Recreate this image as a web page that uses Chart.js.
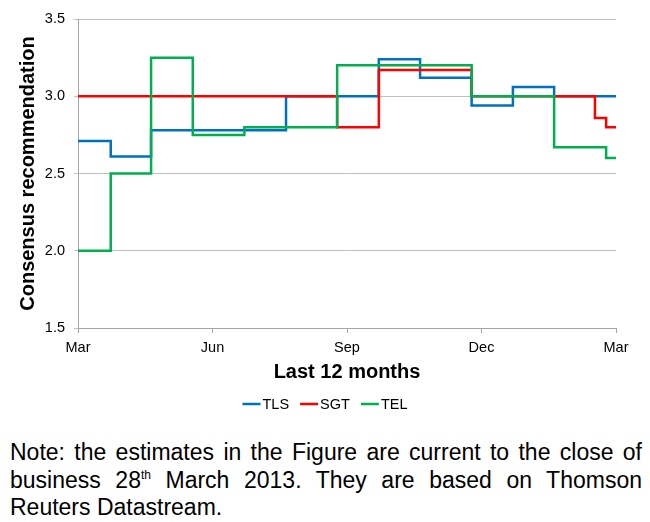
<!DOCTYPE html>
<html>
<head>
<meta charset="utf-8">
<script src="https://cdn.jsdelivr.net/npm/chart.js@4.4.0/dist/chart.umd.min.js"></script>
<style>
  html, body { margin: 0; padding: 0; background: #fff; }
  body { width: 650px; height: 522px; position: relative; overflow: hidden; font-family: "Liberation Sans", Arial, sans-serif; }
  #wrap { position: absolute; left: 0; top: 0; width: 650px; height: 425px; }
  #note {
    position: absolute; left: 10px; top: 439px; width: 632px;
    font-size: 23px; line-height: 27.5px; text-align: justify; color: #000;
  }
  #note sup { font-size: 12px; line-height: 0; vertical-align: 9px; }
</style>
</head>
<body>
<div id="wrap"><canvas id="recChart"></canvas></div>
<div id="note">Note: the estimates in the Figure are current to the close of business 28<sup>th</sup> March 2013. They are based on Thomson Reuters Datastream.</div>
<script>
// months since Mar 2012 where each consensus level starts
const tickLabels = ["Mar", "Jun", "Sep", "Dec", "Mar"];

const tlsMonths = [0, 0.73, 1.63, 4.64, 6.71, 7.63, 8.78, 9.70, 10.62, 12];
const tlsValues = [2.71, 2.61, 2.78, 3.00, 3.24, 3.12, 2.94, 3.06, 3.00, 3.00];

const sgtMonths = [0, 5.78, 6.71, 8.78, 11.53, 11.78, 12];
const sgtValues = [3.00, 2.80, 3.17, 3.00, 2.86, 2.80, 2.80];

const telMonths = [0, 0.73, 1.63, 2.56, 3.71, 5.78, 8.78, 10.62, 11.78, 12];
const telValues = [2.00, 2.50, 3.25, 2.75, 2.80, 3.20, 3.00, 2.67, 2.60, 2.60];

const toPoints = (xs, ys) => xs.map((x, i) => ({ x: x, y: ys[i] }));

const font = '"Liberation Sans", Arial, sans-serif';
const gridColor = "#c0c0c0";
const axisColor = "#a6a6a6";

function series(label, xs, ys, color, order) {
  return {
    label: label,
    data: toPoints(xs, ys),
    borderColor: color,
    backgroundColor: color,
    borderWidth: 2.5,
    pointRadius: 0,
    stepped: true,
    fill: false,
    order: order,
  };
}

// compact Excel-style legend: short line right next to the name, centred on the page
const lineLegend = {
  id: "lineLegend",
  afterDraw(chart) {
    const c = chart.ctx;
    const sets = chart.data.datasets;
    const sample = 18, gap = 2, spacing = 11, y = 404;
    c.save();
    c.font = "14.5px " + font;
    c.textBaseline = "middle";
    const widths = sets.map((d) => c.measureText(d.label).width);
    let total = widths.reduce((a, w) => a + w + sample + gap, 0) + spacing * (sets.length - 1);
    let x = (chart.width - total) / 2;
    sets.forEach((d, i) => {
      c.strokeStyle = d.borderColor;
      c.lineWidth = 2.5;
      c.beginPath();
      c.moveTo(x, y);
      c.lineTo(x + sample, y);
      c.stroke();
      c.fillStyle = "#000";
      c.fillText(d.label, x + sample + gap, y + 1);
      x += sample + gap + widths[i] + spacing;
    });
    c.restore();
  },
};

const ctx = document.getElementById("recChart").getContext("2d");
new Chart(ctx, {
  type: "line",
  data: {
    datasets: [
      series("TLS", tlsMonths, tlsValues, "#0070c0", 3),
      series("SGT", sgtMonths, sgtValues, "#ff0000", 2),
      series("TEL", telMonths, telValues, "#00b050", 1),
    ],
  },
  plugins: [lineLegend],
  options: {
    responsive: true,
    maintainAspectRatio: false,
    animation: false,
    layout: { padding: { top: 19, right: 34, left: 0, bottom: 35 } },
    plugins: {
      tooltip: { enabled: false },
      legend: { display: false },
    },
    scales: {
      x: {
        type: "linear",
        min: 0,
        max: 12,
        ticks: {
          stepSize: 3,
          color: "#000",
          font: { family: font, size: 14.5 },
          padding: 6,
          maxRotation: 0,
          callback: (v) => tickLabels[v / 3],
        },
        grid: { drawOnChartArea: false, drawTicks: true, tickLength: 5, color: axisColor },
        border: { color: axisColor },
        title: {
          display: true,
          text: "Last 12 months",
          color: "#000",
          font: { family: font, size: 20, weight: "bold" },
          padding: { top: 0, bottom: 6 },
        },
        afterFit: (scale) => { scale.height = 62; },
      },
      y: {
        min: 1.5,
        max: 3.5,
        ticks: {
          stepSize: 0.5,
          color: "#000",
          font: { family: font, size: 14.5 },
          padding: 9,
          callback: (v) => v.toFixed(1),
        },
        grid: { color: gridColor, tickLength: 4 },
        border: { color: axisColor },
        title: {
          display: true,
          text: "Consensus recommendation",
          color: "#000",
          font: { family: font, size: 20, weight: "bold" },
          padding: { top: 16, bottom: 0 },
        },
        afterFit: (scale) => { scale.width = 78; },
      },
    },
  },
});
</script>
</body>
</html>
